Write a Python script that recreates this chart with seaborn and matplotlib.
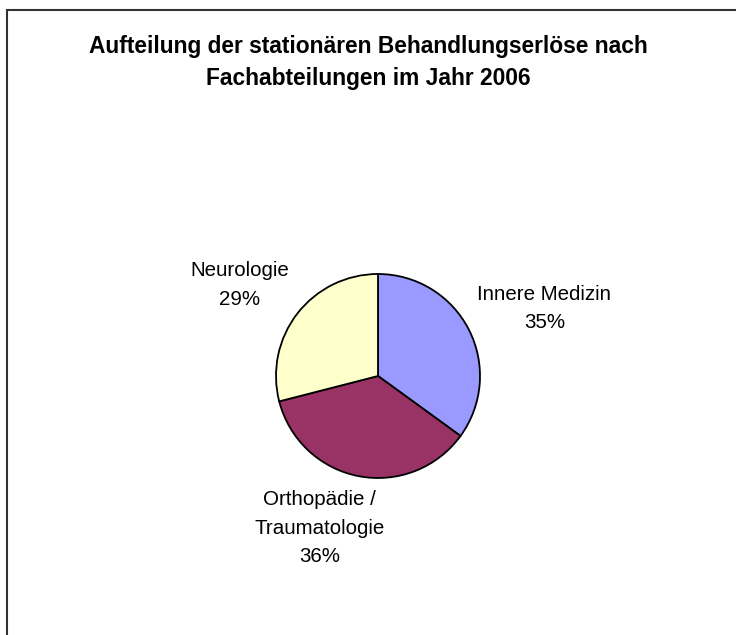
import matplotlib
matplotlib.use("Agg")
import matplotlib.pyplot as plt
import seaborn as sns
import numpy as np
from matplotlib.patches import Rectangle

sns.set_theme(style="white")
plt.rcParams['font.family'] = ['Liberation Sans', 'DejaVu Sans']

categories = ["Innere Medizin", "Orthopädie /\nTraumatologie", "Neurologie"]
values = [35, 36, 29]
colors = ["#9999FF", "#993366", "#FFFFCC"]
title = "Aufteilung der stationären Behandlungserlöse nach\nFachabteilungen im Jahr 2006"

# label layout (radius multiples and angular shift from wedge middle, degrees)
label_dist = [1.76, 1.60, 1.62]
label_shift = [-5.0, -10.3, 4.4]

W, H = 736, 635
fig = plt.figure(figsize=(W / 100, H / 100), dpi=100)
fig.patch.set_facecolor("white")

# outer frame
fig.patches.append(Rectangle((7 / W, -0.2), 1.5, 1 - 10 / H + 0.2, transform=fig.transFigure,
                             fill=False, edgecolor="#333333", linewidth=1.5))

cx, cy, r = 378, 376, 102
ax = fig.add_axes([(cx - r) / W, (H - cy - r) / H, 2 * r / W, 2 * r / H])
labels = [f"{c}\n{v}%" for c, v in zip(categories, values)]
wedges, _ = ax.pie(values, colors=colors, startangle=90, counterclock=False,
                   wedgeprops=dict(edgecolor="black", linewidth=1.3))
for w, lab, d, s in zip(wedges, labels, label_dist, label_shift):
    ang = np.deg2rad((w.theta1 + w.theta2) / 2 + s)
    ax.text(d * np.cos(ang), d * np.sin(ang), lab, ha="center", va="center",
            multialignment="center", linespacing=1.62, fontsize=14.8,
            color="black", clip_on=False)
ax.set_xlim(-1, 1)
ax.set_ylim(-1, 1)
ax.axis("off")

fig.text(368 / W, 1 - 62 / H, title, ha="center", va="center", fontsize=16.4,
         fontweight="bold", linespacing=1.5, color="black")

fig.savefig("out.png", dpi=100, facecolor="white")
